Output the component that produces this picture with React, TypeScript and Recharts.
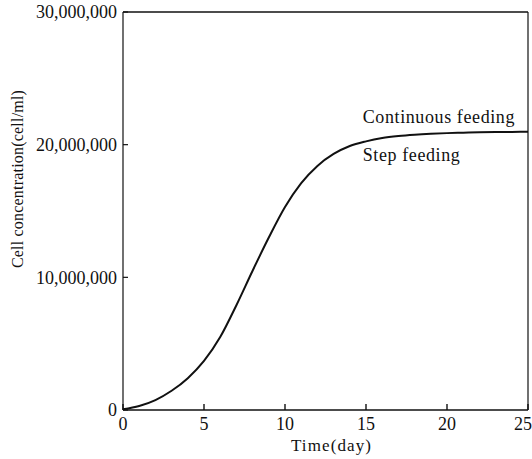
import {
  LineChart,
  Line,
  XAxis,
  YAxis,
  ReferenceLine,
  ReferenceDot,
} from 'recharts';

// days 0..25, cells/ml (both feeding modes overlap)
const days = [0, 1, 2, 3, 4, 5, 6, 7, 8, 9, 10, 11, 12, 13, 14, 15, 16, 17, 18, 19, 20, 21, 22, 23, 24, 25];
const cellConc = [
  0.05e6, 0.3e6, 0.75e6, 1.45e6, 2.4e6, 3.7e6, 5.5e6, 7.9e6, 10.5e6, 13.0e6, 15.3e6, 17.1e6, 18.4e6,
  19.3e6, 19.9e6, 20.25e6, 20.5e6, 20.65e6, 20.75e6, 20.82e6, 20.87e6, 20.9e6, 20.93e6, 20.95e6,
  20.96e6, 20.97e6,
];
const xTicks = [0, 5, 10, 15, 20, 25];
const yTicks = [0, 10000000, 20000000, 30000000];

const notes = [
  { text: 'Continuous feeding', day: 14.8, value: 22.07e6 },
  { text: 'Step feeding', day: 14.8, value: 19.2e6 },
];

const data = days.map((d, i) => ({ day: d, conc: cellConc[i] }));

const FONT = '"Liberation Serif", "Times New Roman", serif';
const INK = '#111';

const YTitle = ({ viewBox }: any) => {
  const cx = viewBox.x + 17;
  const cy = viewBox.y + viewBox.height / 2 - 32;
  return (
    <text
      x={cx}
      y={cy}
      transform={`rotate(-90 ${cx} ${cy})`}
      textAnchor="middle"
      dominantBaseline="central"
      fontFamily={FONT}
      fontSize={16}
      letterSpacing={0.2}
      fill={INK}
    >
      Cell concentration(cell/ml)
    </text>
  );
};

const XTitle = ({ viewBox }: any) => (
  <text
    x={viewBox.x + viewBox.width / 2 + 6}
    y={viewBox.y + 35}
    textAnchor="middle"
    dominantBaseline="central"
    fontFamily={FONT}
    fontSize={17}
    letterSpacing={1.1}
    fill={INK}
  >
    Time(day)
  </text>
);

const noteShape = (text: string) => (props: any) => (
  <text
    x={props.cx}
    y={props.cy}
    textAnchor="start"
    dominantBaseline="central"
    fontFamily={FONT}
    fontSize={18}
    letterSpacing={0.6}
    fill={INK}
  >
    {text}
  </text>
);

export default function App() {
  return (
    <div style={{ position: 'absolute', left: 0, top: 0, background: '#fff' }}>
      <LineChart width={532} height={459} data={data} margin={{ top: 12, right: 4, bottom: 6, left: 0 }}>
        <XAxis
          dataKey="day"
          type="number"
          domain={[0, 25]}
          ticks={xTicks}
          height={43}
          stroke={INK}
          strokeWidth={1.4}
          tickSize={-6}
          tickMargin={13}
          tick={{ fontFamily: FONT, fontSize: 18, fill: INK }}
          label={<XTitle />}
        />
        <YAxis
          type="number"
          domain={[0, 30000000]}
          ticks={yTicks}
          width={123}
          stroke={INK}
          strokeWidth={1.2}
          tickSize={-5}
          tickMargin={11}
          tickFormatter={(v: number) => v.toLocaleString('en-US')}
          tick={{ fontFamily: FONT, fontSize: 18, fill: INK }}
          label={<YTitle />}
        />
        <ReferenceLine y={30000000} stroke={INK} strokeWidth={1.4} />
        <ReferenceLine x={25} stroke={INK} strokeWidth={1.2} />
        <Line
          type="monotone"
          dataKey="conc"
          stroke={INK}
          strokeWidth={2}
          dot={false}
          isAnimationActive={false}
        />
        {notes.map((n) => (
          <ReferenceDot key={n.text} x={n.day} y={n.value} r={0} shape={noteShape(n.text)} />
        ))}
      </LineChart>
    </div>
  );
}
